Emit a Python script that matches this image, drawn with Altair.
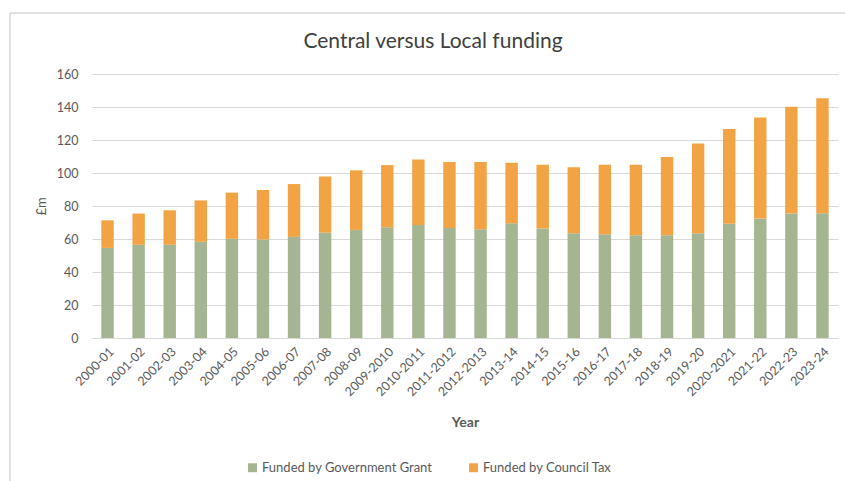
import altair as alt
import pandas as pd

years = ["2000-01", "2001-02", "2002-03", "2003-04", "2004-05", "2005-06", "2006-07",
         "2007-08", "2008-09", "2009-2010", "2010-2011", "2011-2012", "2012-2013",
         "2013-14", "2014-15", "2015-16", "2016-17", "2017-18", "2018-19", "2019-20",
         "2020-2021", "2021-22", "2022-23", "2023-24"]
grant = [54.6, 56.5, 56.5, 58.3, 60.1, 59.7, 61.3, 63.9, 65.5, 67.1, 68.5, 66.7,
         65.9, 69.5, 66.3, 63.5, 62.9, 62.3, 62.3, 63.5, 69.3, 72.4, 75.4, 75.6]
council = [16.7, 18.9, 20.9, 25.1, 28.0, 30.0, 32.0, 34.0, 36.1, 37.7, 39.7, 39.9,
           40.7, 36.7, 38.7, 40.0, 42.1, 42.7, 47.4, 54.4, 57.3, 61.2, 64.7, 69.7]
series = ["Funded by Government Grant", "Funded by Council Tax"]
colors = ["#A5B592", "#F2A444"]

rows = []
for y, g, c in zip(years, grant, council):
    rows.append({"Year": y, "Series": series[0], "Value": g, "idx": 0})
    rows.append({"Year": y, "Series": series[1], "Value": c, "idx": 1})
df = pd.DataFrame(rows)

FONT = "Lato"

bars = alt.Chart(df).mark_bar().encode(
    x=alt.X("Year:N", sort=years,
            scale=alt.Scale(paddingInner=0.6, paddingOuter=0.3),
            axis=alt.Axis(title="Year", labelAngle=-45, labelFontSize=12.5,
                          labelColor="#595959", ticks=False, domainColor="#d9d9d9",
                          domainWidth=1.2, labelPadding=7, titleFontSize=14,
                          titleColor="#595959", titleFontWeight="bold", titlePadding=17)),
    y=alt.Y("Value:Q", stack="zero",
            scale=alt.Scale(domain=[0, 160]),
            axis=alt.Axis(title="£m", values=list(range(0, 161, 20)), labelFontSize=12.5,
                          labelColor="#595959", ticks=False, domain=False,
                          gridColor="#d9d9d9", gridWidth=1.2, labelPadding=14,
                          titleFontSize=13, titleColor="#595959", titleFontWeight="normal",
                          titlePadding=8)),
    color=alt.Color("Series:N", scale=alt.Scale(domain=series, range=colors),
                    legend=alt.Legend(title=None, orient="none", direction="horizontal",
                                      legendX=154, legendY=387, symbolType="square",
                                      symbolSize=80, symbolStrokeWidth=0,
                                      labelFontSize=13, labelColor="#595959",
                                      labelLimit=400, columnPadding=34, labelOffset=3)),
    order=alt.Order("idx:Q", sort="ascending"),
)

border = alt.Chart(alt.Data(values=[{"a": 1}])).mark_rule(color="#d9d9d9", strokeWidth=1.5).encode(
    x=alt.value(-82), y=alt.value(-61), y2=alt.value(420)
)
border_top = alt.Chart(alt.Data(values=[{"a": 1}])).mark_rule(color="#d9d9d9", strokeWidth=1.5).encode(
    x=alt.value(-82), x2=alt.value(760), y=alt.value(-61)
)

chart = alt.layer(bars, border, border_top).properties(
    width=746, height=264,
    title=alt.TitleParams("Central versus Local funding", fontSize=21, color="#404040",
                          fontWeight="normal", anchor="middle", dx=-32, offset=-40),
    autosize=alt.AutoSizeParams(type="none"),
    padding={"left": 92, "top": 74, "right": 7, "bottom": 143},
).configure(font=FONT).configure_view(stroke=None)

chart.save("out.html", embed_options={"renderer": "svg", "actions": False})
